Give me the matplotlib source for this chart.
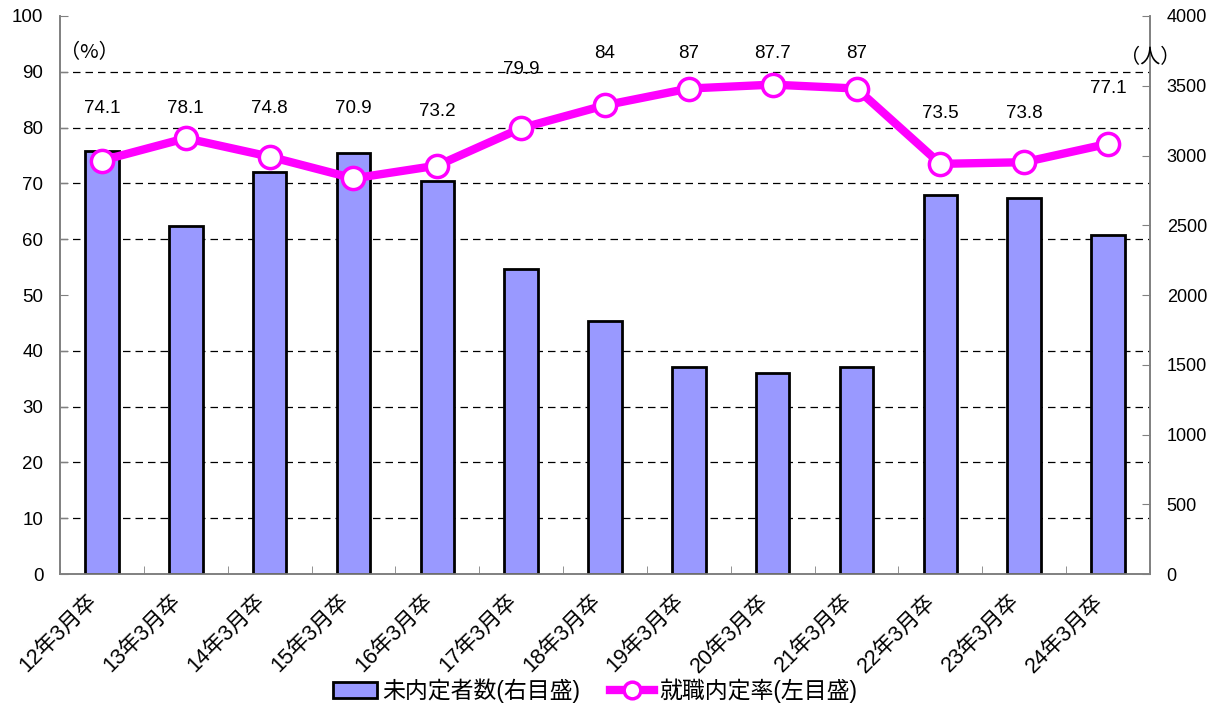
import matplotlib
matplotlib.use("Agg")
import matplotlib.pyplot as plt
from matplotlib.lines import Line2D
from matplotlib.patches import Patch
from matplotlib.transforms import ScaledTranslation
import numpy as np

plt.rcParams['font.family'] = ['Liberation Sans', 'Noto Sans CJK JP']

# data
categories = ['12年3月卒', '13年3月卒', '14年3月卒', '15年3月卒', '16年3月卒', '17年3月卒',
              '18年3月卒', '19年3月卒', '20年3月卒', '21年3月卒', '22年3月卒', '23年3月卒',
              '24年3月卒']
unplaced = [3030, 2495, 2880, 3020, 2815, 2185, 1815, 1485, 1440, 1485, 2715, 2695, 2430]
rate = [74.1, 78.1, 74.8, 70.9, 73.2, 79.9, 84, 87, 87.7, 87, 73.5, 73.8, 77.1]
rate_labels = ['74.1', '78.1', '74.8', '70.9', '73.2', '79.9', '84', '87', '87.7', '87',
               '73.5', '73.8', '77.1']
# where each rate label sits (left scale)
label_y = [83.5, 83.5, 83.5, 83.5, 82.8, 90.4, 93.2, 93.2, 93.2, 93.2, 82.6, 82.6, 87.0]

bar_color = '#9999FF'
line_color = '#FF00FF'
spine_color = '#808080'

fig = plt.figure(figsize=(12.2, 7.07), dpi=100)
ax_bar = fig.add_axes([0.0492, 0.188, 0.8934, 0.7894])
ax = ax_bar.twinx()

x = np.arange(len(categories))

# bars (right scale), drawn underneath the line axes
ax_bar.set_zorder(1)
ax.set_zorder(2)
ax.patch.set_visible(False)

ax_bar.bar(x, unplaced, width=0.4, color=bar_color, edgecolor='black', linewidth=2, zorder=3)
ax_bar.set_ylim(0, 4000)
ax_bar.set_xlim(-0.5, len(categories) - 0.5)
ax_bar.yaxis.tick_right()
ax_bar.set_yticks(range(0, 4001, 500))
# gridlines follow the left (%) scale: every 10% = 400 on this axis
ax_bar.set_yticks(range(400, 4001, 400), minor=True)
ax_bar.grid(which='minor', axis='y', color='black', linestyle=(0, (6, 4)), linewidth=0.9, zorder=0)
ax_bar.tick_params(axis='y', which='minor', length=0)
ax_bar.tick_params(axis='y', which='major', direction='in', length=6, color=spine_color,
                   labelsize=13, pad=12)

ax_bar.set_xticks(x)
ax_bar.set_xticklabels(categories, rotation=45, ha='right', va='top', rotation_mode='anchor',
                       fontsize=15.5)
ax_bar.set_xticks(np.arange(-0.5, len(categories), 1), minor=True)
ax_bar.tick_params(axis='x', which='major', length=0, pad=12)
ax_bar.tick_params(axis='x', which='minor', direction='in', length=6, color=spine_color)
shift = ScaledTranslation(-0.15, 0, fig.dpi_scale_trans)
for lab in ax_bar.get_xticklabels():
    lab.set_transform(lab.get_transform() + shift)

# line (left scale)
ax.plot(x, rate, color=line_color, linewidth=6, marker='o', markersize=16,
        markerfacecolor='white', markeredgecolor=line_color, markeredgewidth=2.5, zorder=5)
for xi, ly, lab in zip(x, label_y, rate_labels):
    ax.text(xi, ly, lab, ha='center', va='center', fontsize=13.5)
ax.set_ylim(0, 100)
ax.yaxis.tick_left()
ax.set_yticks(range(0, 101, 10))
ax.tick_params(axis='y', direction='in', length=6, color=spine_color, labelsize=13.5, pad=12)

for a in (ax, ax_bar):
    a.spines['top'].set_visible(False)
    for s in ('left', 'right', 'bottom'):
        a.spines[s].set_color(spine_color)
        a.spines[s].set_linewidth(1.2)

ax.text(0.0, 0.935, '（%）', transform=ax.transAxes, fontsize=14.5, ha='left', va='center',
        family=['Noto Sans CJK JP'])
ax.text(1.0, 0.925, '（人）', transform=ax.transAxes, fontsize=14.5, ha='center', va='center',
        family=['Noto Sans CJK JP'])

handles = [Patch(facecolor=bar_color, edgecolor='black', linewidth=2),
           Line2D([0], [0], color=line_color, linewidth=6, marker='o', markersize=12,
                  markerfacecolor='white', markeredgecolor=line_color, markeredgewidth=2.5)]
fig.legend(handles, ['未内定者数(右目盛)', '就職内定率(左目盛)'], loc='lower center',
           bbox_to_anchor=(0.488, -0.024), ncol=2, frameon=False, fontsize=16.5,
           handlelength=1.9, handletextpad=0.25, columnspacing=1.3)

fig.savefig('out.png', dpi=100)
